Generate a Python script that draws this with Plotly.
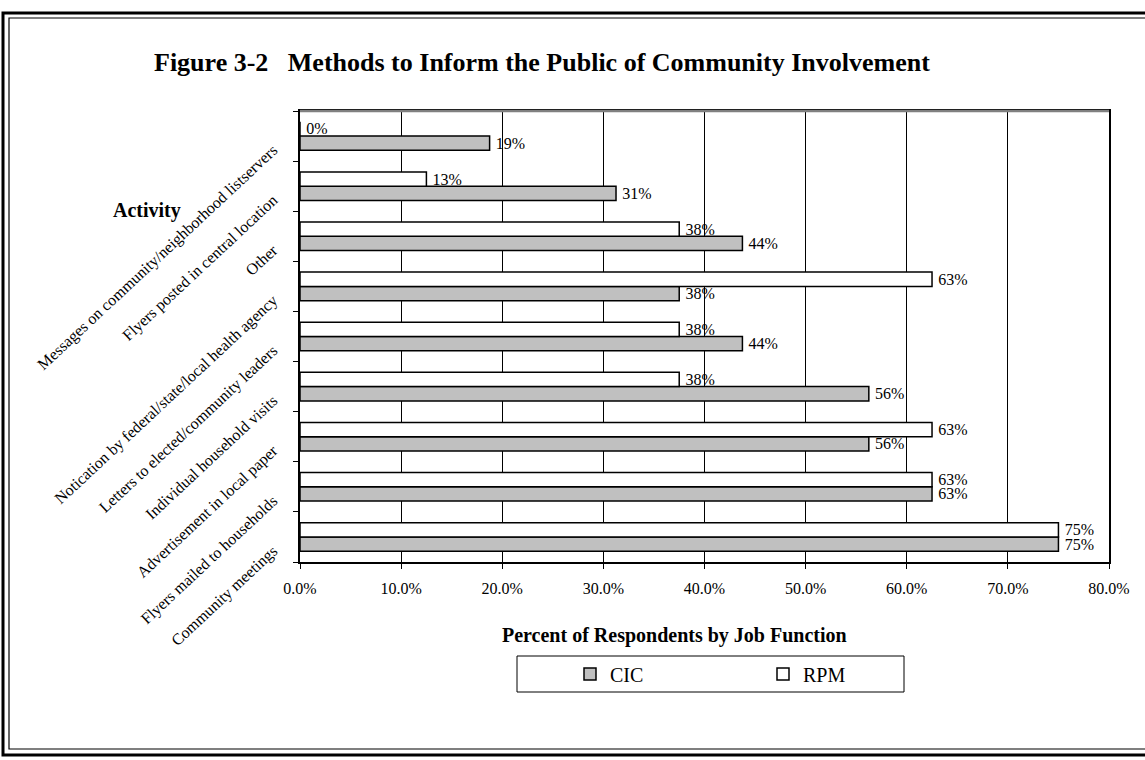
import plotly.graph_objects as go

# Activities, listed bottom to top as they appear on the category axis
activities = [
    "Community meetings",
    "Flyers mailed to households",
    "Advertisement in local paper",
    "Individual household visits",
    "Letters to elected/community leaders",
    "Notication by federal/state/local health agency",
    "Other",
    "Flyers posted in central location",
    "Messages on community/neighborhood listservers",
]

# Share of respondents by job function
cic_share = [0.75, 0.625, 0.5625, 0.5625, 0.4375, 0.375, 0.4375, 0.3125, 0.1875]
rpm_share = [0.75, 0.625, 0.625, 0.375, 0.375, 0.625, 0.375, 0.125, 0.0]

x_ticks = [0.0, 0.1, 0.2, 0.3, 0.4, 0.5, 0.6, 0.7, 0.8]

W, H = 1145, 760
L, R, T, B = 300, 36, 111, 198
PW, PH = W - L - R, H - T - B


def px_x(px):
    return (px - L) / PW


def px_y(py):
    return (H - B - py) / PH


SERIF = "Liberation Serif, Times New Roman, serif"
LABEL_FONT = dict(family=SERIF, size=16, color="black")
# a thin space keeps the value labels a little clear of the bar ends
VALUE_TEMPLATE = "\u2009%{x:.0%}"

fig = go.Figure()
fig.add_trace(go.Bar(
    name="CIC", y=activities, x=cic_share, orientation="h",
    marker=dict(color="#C0C0C0", line=dict(color="black", width=1.5)),
    text=cic_share, texttemplate=VALUE_TEMPLATE, textposition="outside",
    textfont=LABEL_FONT, constraintext="none", cliponaxis=False,
))
fig.add_trace(go.Bar(
    name="RPM", y=activities, x=rpm_share, orientation="h",
    marker=dict(color="white", line=dict(color="black", width=1.5)),
    text=rpm_share, texttemplate=VALUE_TEMPLATE, textposition="outside",
    textfont=LABEL_FONT, constraintext="none", cliponaxis=False,
))

shapes = [
    # gray top edge of the plot area
    dict(type="line", xref="paper", yref="paper", x0=0, x1=1, y0=1, y1=1,
         line=dict(color="#808080", width=2.5)),
    # legend box
    dict(type="rect", xref="paper", yref="paper",
         x0=px_x(517), x1=px_x(904), y0=px_y(656), y1=px_y(692),
         line=dict(color="black", width=1)),
    # double frame around the whole chart
    dict(type="rect", xref="paper", yref="paper",
         x0=px_x(3), x1=px_x(1160), y0=px_y(13), y1=px_y(755),
         line=dict(color="black", width=3)),
    dict(type="rect", xref="paper", yref="paper",
         x0=px_x(9), x1=px_x(1160), y0=px_y(18), y1=px_y(749),
         line=dict(color="black", width=1.2)),
]

annotations = [
    dict(text="<b>Figure 3-2\u00a0\u00a0\u00a0Methods to Inform the Public of Community Involvement</b>",
         xref="paper", yref="paper", x=px_x(542), y=px_y(62),
         xanchor="center", yanchor="middle", showarrow=False,
         font=dict(family=SERIF, size=26, color="black")),
    dict(text="<b>Activity</b>", xref="paper", yref="paper",
         x=px_x(147), y=px_y(210), xanchor="center", yanchor="middle",
         showarrow=False, font=dict(family=SERIF, size=20, color="black")),
    dict(text="<b>Percent of Respondents by Job Function</b>", xref="paper", yref="paper",
         x=px_x(674), y=px_y(635), xanchor="center", yanchor="middle",
         showarrow=False, font=dict(family=SERIF, size=20, color="black")),
]

fig.update_layout(
    width=W, height=H,
    margin=dict(l=L, r=R, t=T, b=B, autoexpand=False),
    paper_bgcolor="white", plot_bgcolor="white",
    barmode="group", bargap=0.43, bargroupgap=0,
    font=dict(family=SERIF, color="black"),
    showlegend=True,
    legend=dict(orientation="h", x=px_x(570), y=px_y(674),
                xanchor="left", yanchor="middle",
                entrywidth=148, entrywidthmode="pixels",
                font=dict(family=SERIF, size=20, color="black"),
                bgcolor="rgba(0,0,0,0)", borderwidth=0, traceorder="normal"),
    xaxis=dict(range=[0, 0.8], tickvals=x_ticks, tickformat=".1%",
               showgrid=True, gridcolor="black", gridwidth=1,
               showline=True, linecolor="black", linewidth=1.5, mirror=True,
               ticks="outside", ticklen=5, tickcolor="black",
               ticklabelstandoff=6,
               tickfont=dict(family=SERIF, size=16, color="black"),
               zeroline=False, fixedrange=True),
    yaxis=dict(type="category", categoryorder="array", categoryarray=activities,
               tickangle=-43, showgrid=False,
               showline=True, linecolor="black", linewidth=1.5, mirror=True,
               ticks="outside", ticklen=5, tickcolor="black",
               tickson="boundaries",
               ticklabelstandoff=22, ticklabelshift=12,
               tickfont=dict(family=SERIF, size=16, color="black"),
               fixedrange=True),
    shapes=shapes,
    annotations=annotations,
)

fig.write_html("out.html")
